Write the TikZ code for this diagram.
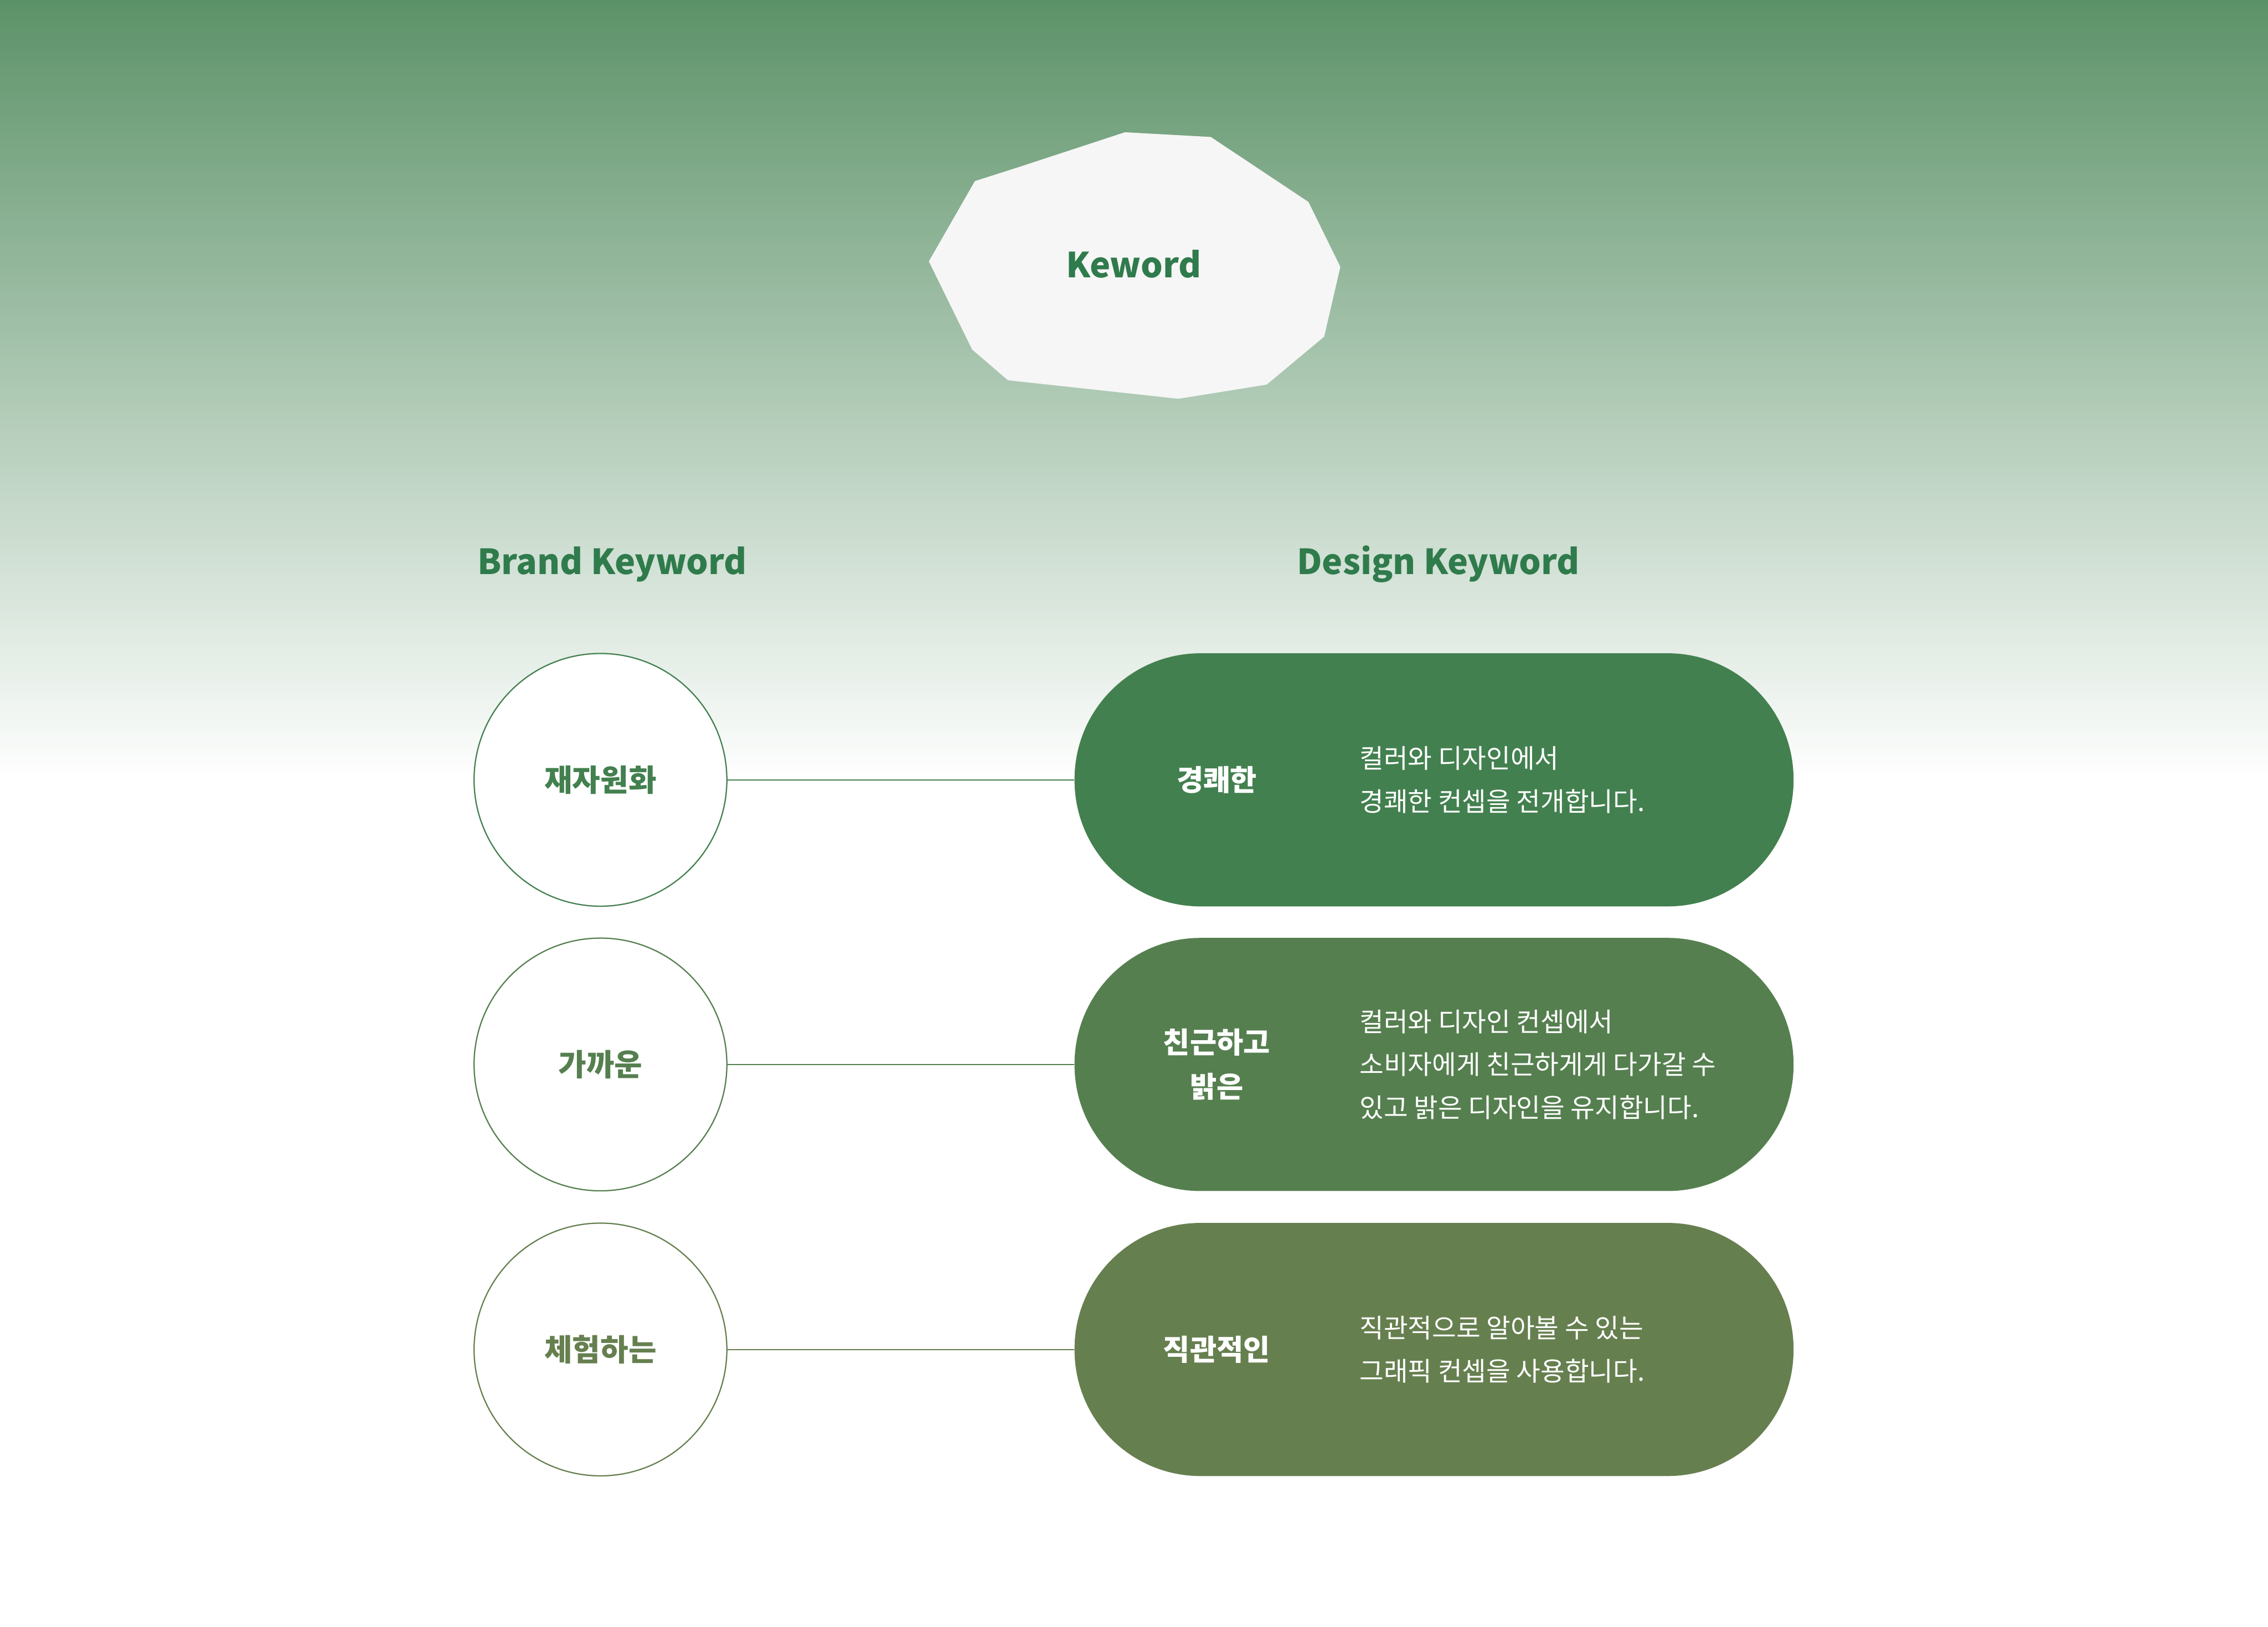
\documentclass[tikz,border=0pt]{standalone}
\usepackage{fontspec}
\setmainfont{Noto Sans CJK KR}
\usetikzlibrary{positioning}
\definecolor{kwTop}{HTML}{5C9268}
\definecolor{kwGreen}{HTML}{2F7B4C}
\definecolor{kwPaper}{HTML}{F6F6F6}
\definecolor{kwRowA}{HTML}{43804F}
\definecolor{kwRowB}{HTML}{557F4F}
\definecolor{kwRowC}{HTML}{667F4F}
\tikzset{
  kw heading/.style={font=\bfseries\fontsize{25}{30}\selectfont, text=kwGreen, inner sep=0pt},
  kw circle/.style={circle, draw, line width=0.9pt, minimum size=6.42cm, inner sep=0pt, font=\bfseries\fontsize{22}{26}\selectfont},
  kw pill/.style={rectangle, rounded corners=3.2cm, minimum width=18.26cm, minimum height=6.43cm, inner sep=0pt},
  kw title/.style={font=\bfseries\fontsize{21}{32}\selectfont, text=white, align=center, inner sep=0pt},
  kw desc/.style={font=\fontsize{19}{31}\selectfont, text=white, align=left, anchor=west, inner sep=0pt},
  kw link/.style={line width=0.9pt},
}

\begin{document}
\begin{tikzpicture}
  \useasboundingbox (0,0) rectangle (57.6,41.32);

  % Green wash at the top fading to white
  \fill[white] (0,0) rectangle (57.6,41.32);
  \shade[top color=kwTop, bottom color=white] (0,21.48) rectangle (57.6,41.32);

  % Paper cut-out with the main word
  \fill[kwPaper] (28.57,37.96) -- (30.75,37.84) -- (33.23,36.19) -- (34.04,34.54)
    -- (33.63,32.77) -- (32.17,31.55) -- (29.93,31.19) -- (25.60,31.66)
    -- (24.69,32.44) -- (23.59,34.68) -- (24.76,36.72) -- (25.86,37.07) -- cycle;
  \node[kw heading] (keyword) at (28.79,34.61) {Keword};

  % Column headings
  \node[kw heading, anchor=west] (brandhead) at (12.12,26.99) {Brand Keyword};
  \node[kw heading] (designhead) at (36.53,26.99) {Design Keyword};

  % One row per keyword: circle, link, pill and its note
  \foreach \n/\y/\rowcol/\brand/\design/\desc in {
    1/21.51/kwRowA/재자원화/경쾌한/{컬러와 디자인에서\\경쾌한 컨셉을 전개합니다.},
    2/14.28/kwRowB/가까운/{친근하고\\밝은}/{컬러와 디자인 컨셉에서\\소비자에게 친근하게게 다가갈 수\\있고 밝은 디자인을 유지합니다.},
    3/7.04/kwRowC/체험하는/직관적인/{직관적으로 알아볼 수 있는\\그래픽 컨셉을 사용합니다.}} {
    \node[kw circle, draw=\rowcol, text=\rowcol, fill=white] (brand\n) at (15.25,\y) {\brand};
    \node[kw pill, fill=\rowcol] (design\n) at (36.42,\y) {};
    \node[kw title] (tag\n) at ([xshift=3.62cm]design\n.west) {\design};
    \node[kw desc] (note\n) at ([xshift=7.24cm]design\n.west) {\desc};
    \draw[kw link, draw=\rowcol] (brand\n) -- (design\n);
  }
\end{tikzpicture}
\end{document}
